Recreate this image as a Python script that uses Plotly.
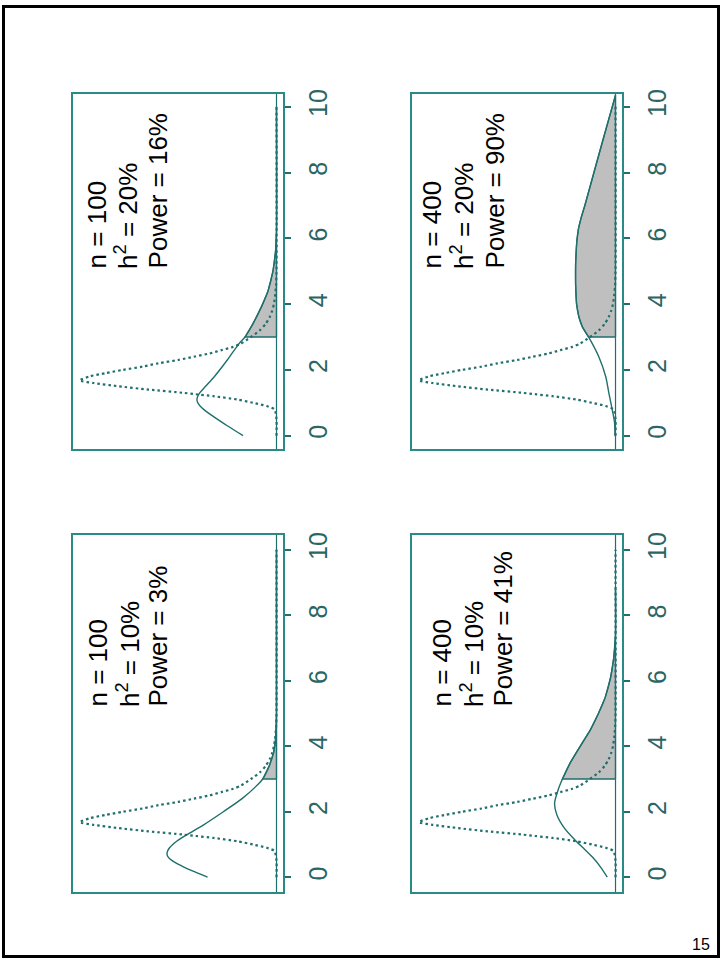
import numpy as np
import plotly.graph_objects as go

W, H = 723, 960

# ---------------- data ----------------
# null distribution (dotted), same in all panels; density scaled so peak = 1
null_x = [0, 0.5, 0.8, 0.9, 1.0, 1.1, 1.2, 1.26, 1.3, 1.4, 1.5, 1.6, 1.68, 1.8, 1.9,
          2.0, 2.1, 2.2, 2.3, 2.4, 2.5, 2.6, 2.7, 2.8, 3.0, 3.2, 3.4, 3.6, 3.8, 4.0,
          4.3, 4.6, 5.0, 10]
null_y = [0, 0, 0.01, 0.05, 0.12, 0.2, 0.32, 0.41, 0.47, 0.65, 0.8, 0.93, 1.0, 0.95, 0.87,
          0.78, 0.68, 0.6, 0.5, 0.42, 0.34, 0.28, 0.22, 0.18, 0.13, 0.085, 0.055, 0.035, 0.022, 0.013,
          0.006, 0.002, 0, 0]

# alternative distributions (solid)
alt_a_x = [0, 0.2, 0.4, 0.5, 0.6, 0.7, 0.8, 0.9, 1.0, 1.1, 1.3, 1.6, 2.0, 2.4, 2.8, 3.0, 3.4, 3.8, 4.2, 4.6, 5.0, 10]
alt_a_y = [0.35, 0.43, 0.5, 0.528, 0.548, 0.556, 0.553, 0.543, 0.527, 0.507, 0.455, 0.37, 0.27, 0.175, 0.1, 0.07, 0.037, 0.015, 0.005, 0.001, 0, 0]

alt_b_x = [0, 0.3, 0.6, 0.8, 0.9, 1.0, 1.1, 1.2, 1.3, 1.5, 1.8, 2.3, 2.8, 3.0, 3.4, 3.9, 4.4, 5.0, 5.6, 6.2, 10]
alt_b_y = [0.17, 0.25, 0.325, 0.37, 0.388, 0.4, 0.404, 0.4, 0.39, 0.36, 0.315, 0.25, 0.19, 0.16, 0.12, 0.078, 0.043, 0.018, 0.005, 0, 0]

alt_c_x = [0, 0.3, 0.6, 0.9, 1.1, 1.5, 1.9, 2.26, 2.7, 3.0, 3.5, 4.0, 4.5, 5.0, 5.5, 6.1, 6.7, 7.4, 8.8]
alt_c_y = [0.042, 0.075, 0.115, 0.165, 0.2, 0.26, 0.298, 0.31, 0.29, 0.27, 0.23, 0.18, 0.128, 0.087, 0.052, 0.025, 0.009, 0, 0]

alt_d_x = [0, 0.4, 0.8, 1.3, 1.8, 2.4, 2.98, 3.3, 3.6, 4.0, 4.6, 5.2, 5.9, 6.3, 6.6, 7.0, 8.0, 9.0, 10.35]
alt_d_y = [0.003, 0.005, 0.017, 0.034, 0.05, 0.085, 0.135, 0.168, 0.186, 0.198, 0.203, 0.203, 0.197, 0.188, 0.176, 0.156, 0.11, 0.064, 0]

threshold = 3
tick_vals = [0, 2, 4, 6, 8, 10]
sample_sizes = ["100", "100", "400", "400"]
heritabilities = ["10%", "20%", "10%", "20%"]
powers = ["3%", "16%", "41%", "90%"]
page_number = "15"

alts = [(alt_a_x, alt_a_y), (alt_b_x, alt_b_y), (alt_c_x, alt_c_y), (alt_d_x, alt_d_y)]

# ---------------- layout (pixels) ----------------
# panel boxes: (left, right, top, bottom) in pixels; A bottom-left, B top-left, C bottom-right, D top-right
boxes = [(72.7, 283, 533, 892), (72.7, 283, 90, 447), (412, 622, 533, 892), (412, 622, 90, 447)]
yranges = [[-0.46, 10.46], [-0.41, 10.40], [-0.46, 10.46], [-0.41, 10.40]]
text_pos = [([98, 128, 158], 708), ([97, 127, 158], 268), ([442, 472, 503], 708), ([432, 463, 495], 268)]

TEAL = "#1f6f6c"
TEXT_TEAL = "#2b6564"
FONT = "Liberation Sans, Arial, sans-serif"

fig = go.Figure()
layout_axes = {}
annotations = []
shapes = []

for i in range(4):
    sfx = "" if i == 0 else str(i + 1)
    xr, yr = "x" + sfx, "y" + sfx
    l, r, t, b = boxes[i]
    ax, ay = alts[i]
    ax_arr = np.array(ax, dtype=float)
    ay_arr = np.array(ay, dtype=float)

    # shaded region beyond threshold (built from the alternative curve)
    m = ax_arr >= threshold
    y_at_thr = float(np.interp(threshold, ax_arr, ay_arr))
    poly_lod = [threshold, threshold] + list(ax_arr[m]) + [ax_arr[m][-1], threshold]
    poly_den = [0.0, y_at_thr] + list(ay_arr[m]) + [0.0, 0.0]
    fig.add_trace(go.Scatter(x=poly_den, y=poly_lod, xaxis=xr, yaxis=yr, mode="lines",
                             fill="toself", fillcolor="#bfbfbf",
                             line=dict(color=TEAL, width=1.3), hoverinfo="skip", showlegend=False))
    # null (dotted)
    fig.add_trace(go.Scatter(x=null_y, y=null_x, xaxis=xr, yaxis=yr, mode="lines",
                             line=dict(color=TEAL, width=2.2, dash="2.5px,3px", shape="spline", smoothing=0.6),
                             showlegend=False))
    # alternative (solid)
    fig.add_trace(go.Scatter(x=ay, y=ax, xaxis=xr, yaxis=yr, mode="lines",
                             line=dict(color=TEAL, width=1.4, shape="spline", smoothing=0.8),
                             showlegend=False))

    layout_axes["xaxis" + sfx] = dict(
        domain=[l / W, r / W], range=[1.035, -0.033], anchor=yr,
        showticklabels=False, ticks="", showgrid=False, zeroline=False,
        showline=True, mirror=True, linecolor="#2a8a86", linewidth=2)
    layout_axes["yaxis" + sfx] = dict(
        domain=[1 - b / H, 1 - t / H], range=yranges[i], anchor=xr, side="right",
        tickvals=tick_vals, tickangle=-90, ticks="outside", ticklen=6, tickwidth=1.5,
        tickcolor=TEAL, tickfont=dict(family=FONT, size=25, color=TEXT_TEAL),
        ticklabelstandoff=6,
        showgrid=False, zeroline=False, showline=True, mirror=True,
        linecolor="#2a8a86", linewidth=2)

    # baseline (density 0) across the full panel height
    shapes.append(dict(type="line", xref=xr, yref=yr + " domain", x0=0, x1=0, y0=0, y1=1,
                       line=dict(color=TEAL, width=1.2)))

    xs, ybot = text_pos[i]
    lines = ["n = " + sample_sizes[i],
             "h<sup>2</sup> = " + heritabilities[i],
             "Power = " + powers[i]]
    for xp, txt in zip(xs, lines):
        annotations.append(dict(text=txt, x=xp / W, y=1 - ybot / H, xref="paper", yref="paper",
                                xanchor="center", yanchor="bottom", textangle=-90,
                                showarrow=False, font=dict(family=FONT, size=26, color="black")))

# page frame and page number
shapes.append(dict(type="rect", xref="paper", yref="paper",
                   x0=3.5 / W, x1=718.5 / W, y0=1 - 956.5 / H, y1=1 - 2.5 / H,
                   line=dict(color="black", width=3)))
annotations.append(dict(text=page_number, x=712 / W, y=1 - 944 / H, xref="paper", yref="paper",
                        xanchor="right", yanchor="middle", showarrow=False,
                        font=dict(family=FONT, size=16, color="black")))

fig.update_layout(width=W, height=H, autosize=False,
                  margin=dict(l=0, r=0, t=0, b=0, pad=0),
                  paper_bgcolor="white", plot_bgcolor="white",
                  shapes=shapes, annotations=annotations, **layout_axes)

fig.write_html("out.html")
